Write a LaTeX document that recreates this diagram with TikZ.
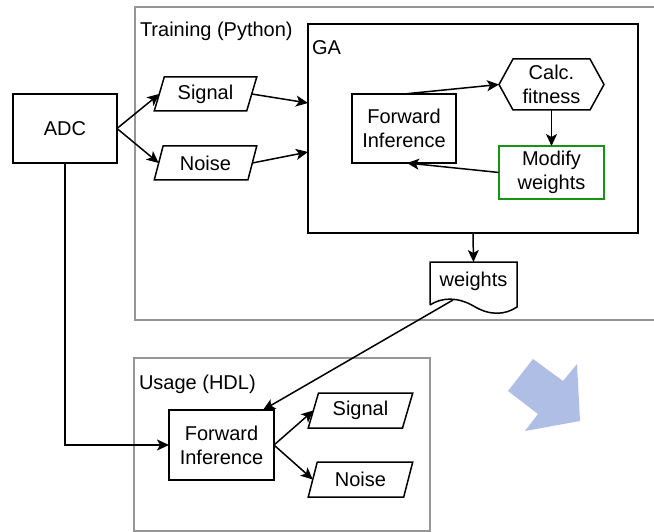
\documentclass[tikz,border=0pt]{standalone}
\usepackage{fontspec}
\setmainfont{Liberation Sans}
\usetikzlibrary{arrows.meta,shapes.geometric,calc}
\definecolor{framegray}{RGB}{150,150,150}
\definecolor{modgreen}{RGB}{20,150,20}
\definecolor{bigarrow}{RGB}{174,190,228}
\tikzset{
  every node/.style={font=\fontsize{20}{24}\selectfont, inner sep=0pt, outer sep=0pt},
  box/.style={draw=black, line width=1.5pt, rectangle},
  frame/.style={draw=framegray, line width=1.6pt},
  para/.style={draw=black, line width=1.5pt, trapezium, trapezium left angle=70,
    trapezium right angle=110, trapezium stretches=true,
    minimum width=103pt, minimum height=34pt},
  arr/.style={line width=1.5pt, -{Stealth[length=12pt,width=11pt,inset=3pt]}},
  lbl/.style={anchor=base west},
}
\begin{document}
\begin{tikzpicture}[x=1pt,y=-1pt]
\clip (0,0) rectangle (654,532);
\fill[white] (0,0) rectangle (654,532);

% containers
\draw[frame] (135,7) rectangle (670,320);
\node[lbl] (trainlbl) at (140,37) {Training (Python)};
\draw[frame] (134,358) rectangle (430,531);
\node[lbl] (uselbl) at (139,389) {Usage (HDL)};

% source
\node[box, minimum width=104pt, minimum height=69pt] (adc) at (65,128.5) {ADC};

% training inputs
\node[para] (sig) at (205.5,94) {Signal};
\node[para] (noi) at (205.5,163) {Noise};

% genetic algorithm block
\node[box, minimum width=330pt, minimum height=209pt] (ga) at (473,128.5) {};
\node[lbl] (galbl) at (312,55) {GA};
\node[box, minimum width=104pt, minimum height=69pt, align=center] (fi) at (404,128.5) {Forward\\Inference};
\node[minimum width=105pt, minimum height=51pt, align=center] (calc) at (551.5,84.5) {Calc.\\fitness};
\draw[line width=1.5pt] (calc.west) -- ($(calc.north west)+(14,0)$) -- ($(calc.north east)+(-14,0)$)
  -- (calc.east) -- ($(calc.south east)+(-14,0)$) -- ($(calc.south west)+(14,0)$) -- cycle;
\node[draw=modgreen, line width=1.3pt, minimum width=105pt, minimum height=53pt, align=center] (mod) at (551.5,172.5) {Modify\\weights};

% weights document
\node[minimum width=87pt, minimum height=38pt] (wts) at (473.5,281) {weights};
\draw[line width=1.5pt] (430,305) -- (430,262) -- (517,262) -- (517,307)
  .. controls (505,315) and (490,316) .. (473.5,306)
  .. controls (458,297) and (442,297) .. (430,305);
\coordinate (wave) at (453,300);

% usage block
\node[box, minimum width=105pt, minimum height=70pt, align=center] (fi2) at (221.5,445) {Forward\\Inference};
\node[para, minimum width=105pt, minimum height=35pt] (sig2) at (360.5,410.5) {Signal};
\node[para, minimum width=105pt, minimum height=35pt] (noi2) at (360.5,479.5) {Noise};

% connectors
\draw[arr] (adc.east) -- (sig.west);
\draw[arr] (adc.east) -- (noi.west);
\draw[arr] (sig.east) -- ($(ga.west)+(0,-25.5)$);
\draw[arr] (noi.east) -- ($(ga.west)+(0,23.5)$);
\draw[arr] (fi.north) -- (calc.west);
\draw[arr] (calc.south) -- (mod.north);
\draw[arr] (mod.west) -- ($(fi.south)+(3,0)$);
\draw[arr] (ga.south) -- (wts.north);
\draw[arr] (wave) -- ($(fi2.north east)+(-11,0)$);
\draw[arr] (adc.south) |- (fi2.west);
\draw[arr] (fi2.east) -- (sig2.west);
\draw[arr] (fi2.east) -- (noi2.west);

% large decorative arrow
\fill[bigarrow] (508,391) -- (533,359) -- (563,381) -- (577,364) -- (580,421) -- (525,431) -- (538,414) -- cycle;
\end{tikzpicture}
\end{document}
